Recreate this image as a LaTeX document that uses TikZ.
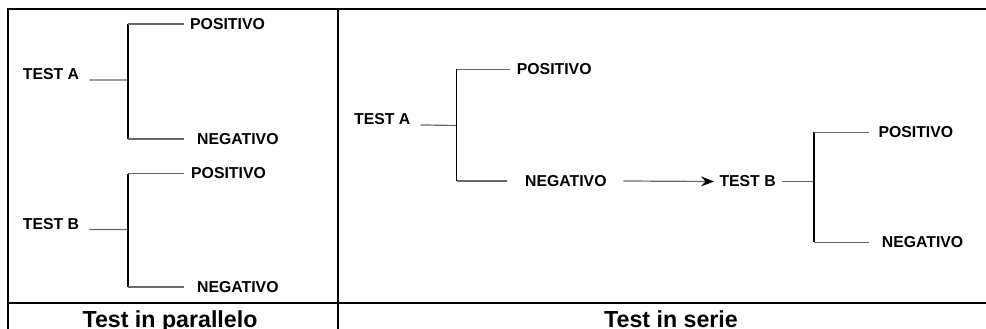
\documentclass[tikz,border=0pt]{standalone}
\usepackage{fontspec}
\setmainfont{Liberation Sans}
\usetikzlibrary{arrows.meta}
\tikzset{
  lbl/.style={font=\bfseries\fontsize{15.8}{18}\selectfont, inner sep=0pt, anchor=west},
  captext/.style={font=\bfseries\fontsize{23.2}{26}\selectfont, inner sep=0pt, anchor=base},
  hl/.style={draw={rgb,255:red,105;green,105;blue,105}, line width=1.2pt},
  vl/.style={draw=black, line width=1.1pt},
  frame/.style={draw=black, line width=2pt}
}
\begin{document}
\begin{tikzpicture}[x=1pt,y=-1pt]
\useasboundingbox (0,0) rectangle (986,329);
% frame
\draw[frame] (8,9) -- (986,9);
\draw[frame] (8,302.5) -- (986,302.5);
\draw[frame] (8,8) -- (8,329);
\draw[frame] (338,8) -- (338,329);
\node[captext] (c1) at (170,327.5) {Test in parallelo};
\node[captext] (c2) at (671,327.5) {Test in serie};
% left panel: test A
\node[lbl] (ta1) at (22.7,74.5) {TEST A};
\node[lbl] (pa1) at (190,24) {POSITIVO};
\node[lbl] (na1) at (197,139) {NEGATIVO};
\coordinate (ja1) at (128,80);
\draw[hl] ([xshift=10pt]ta1.base east) -- (ja1);
\draw[vl] (ja1 |- pa1.west) -- (ja1 |- na1.west);
\draw[hl] (ja1 |- pa1.west) -- ([xshift=-6pt]pa1.west);
\draw[hl] (ja1 |- na1.west) -- ([xshift=-13pt]na1.west);
% left panel: test B
\node[lbl] (tb1) at (22.7,224) {TEST B};
\node[lbl] (pb1) at (191,173.5) {POSITIVO};
\node[lbl] (nb1) at (197,287) {NEGATIVO};
\coordinate (jb1) at (128,229.5);
\draw[hl] ([xshift=10pt]tb1.base east) -- (jb1);
\draw[vl] (jb1 |- pb1.west) -- (jb1 |- nb1.west);
\draw[hl] (jb1 |- pb1.west) -- ([xshift=-7pt]pb1.west);
\draw[hl] (jb1 |- nb1.west) -- ([xshift=-13pt]nb1.west);
% right panel: test A
\node[lbl] (ta2) at (354,119.5) {TEST A};
\node[lbl] (pa2) at (516.7,69.5) {POSITIVO};
\node[lbl] (na2) at (525,181) {NEGATIVO};
\coordinate (ja2) at (456.7,125.5);
\draw[hl] ([xshift=10pt]ta2.base east) -- (ja2);
\draw[vl] (ja2 |- pa2.west) -- (ja2 |- na2.west);
\draw[hl] (ja2 |- pa2.west) -- ([xshift=-6.7pt]pa2.west);
\draw[hl] (ja2 |- na2.west) -- ([xshift=-18.3pt]na2.west);
% right panel: test B
\node[lbl] (tb2) at (719.3,181.5) {TEST B};
\node[lbl] (pb2) at (878.3,132.3) {POSITIVO};
\node[lbl] (nb2) at (881.7,242.3) {NEGATIVO};
\coordinate (jb2) at (814,181.5);
\draw[hl, -{Stealth[length=13pt,width=10pt,inset=4.5pt,color=black]}] ([xshift=16.6pt]na2.east) -- ([xshift=-5.3pt]tb2.west);
\draw[hl] ([xshift=6.6pt]tb2.east) -- (jb2);
\draw[vl] (jb2 |- pb2.west) -- (jb2 |- nb2.west);
\draw[hl] (jb2 |- pb2.west) -- ([xshift=-9.3pt]pb2.west);
\draw[hl] (jb2 |- nb2.west) -- ([xshift=-12.7pt]nb2.west);
\end{tikzpicture}
\end{document}
